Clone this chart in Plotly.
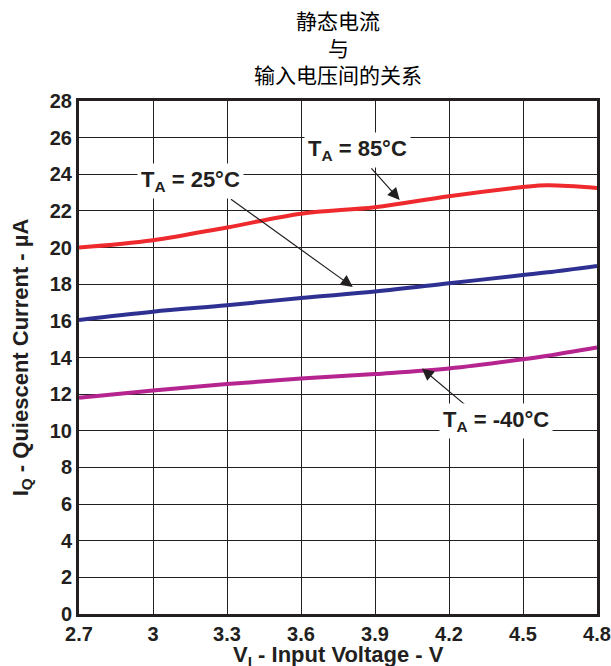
import plotly.graph_objects as go

vin = [2.7, 3.0, 3.3, 3.6, 3.9, 4.2, 4.5, 4.6, 4.8]
iq_85 = [20.0, 20.4, 21.1, 21.85, 22.2, 22.8, 23.3, 23.4, 23.25]
iq_25 = [16.05, 16.5, 16.85, 17.25, 17.6, 18.05, 18.5, 18.65, 19.0]
iq_m40 = [11.8, 12.2, 12.55, 12.85, 13.1, 13.4, 13.9, 14.1, 14.55]
title_lines = ["静态电流", "与", "输入电压间的关系"]

fnt = "Liberation Sans, Arial"
ink = "#231f20"

fig = go.Figure()
fig.add_trace(go.Scatter(x=vin, y=iq_85, mode="lines", line=dict(color="#ee2a2e", width=4, shape="spline")))
fig.add_trace(go.Scatter(x=vin, y=iq_25, mode="lines", line=dict(color="#2e3192", width=4, shape="spline")))
fig.add_trace(go.Scatter(x=vin, y=iq_m40, mode="lines", line=dict(color="#b5248f", width=4, shape="spline")))

lbl_font = dict(family=fnt, size=22, color=ink)

# arrows: (head x, head y, tail x, tail y)
arrows = [(4.0, 22.6, 3.88, 24.4), (3.81, 17.85, 3.31, 22.7), (4.09, 13.4, 4.28, 11.25)]
for hx, hy, tx, ty in arrows:
    fig.add_annotation(x=hx, y=hy, ax=tx, ay=ty, axref="x", ayref="y", xref="x", yref="y",
                       text="", showarrow=True, arrowhead=2, arrowsize=2, arrowwidth=1.2,
                       arrowcolor=ink)

labels = [("<b>T<sub>A</sub> = 85°C</b>", 3.83, 25.35),
          ("<b>T<sub>A</sub> = 25°C</b>", 3.15, 23.65),
          ("<b>T<sub>A</sub> = -40°C</b>", 4.39, 10.55)]
for txt, x, y in labels:
    fig.add_annotation(x=x, y=y, text=txt, showarrow=False, font=lbl_font, bgcolor="white",
                       borderpad=3)

for line, yp in zip(title_lines, [1.158, 1.105, 1.052]):
    fig.add_annotation(x=0.5, y=yp, xref="paper", yref="paper", yanchor="middle", text=line,
                       showarrow=False, font=dict(family="Noto Sans CJK SC", size=21, color="black"))

# x axis title as annotation so it sits where the reference has it
fig.add_annotation(x=0.5, y=-0.082, xref="paper", yref="paper", yanchor="middle",
                   text="<b>V<sub>I</sub> - Input Voltage - V</b>", showarrow=False,
                   font=dict(family=fnt, size=22, color=ink))

fig.update_layout(
    width=611, height=666,
    margin=dict(l=79, r=14, t=101, b=52),
    plot_bgcolor="white", paper_bgcolor="white",
    showlegend=False,
)
fig.update_xaxes(range=[2.7, 4.8], tick0=2.7, dtick=0.3, showgrid=True, gridcolor=ink, gridwidth=1,
                 showline=True, linecolor=ink, linewidth=3, mirror=True, zeroline=False,
                 ticks="", tickfont=dict(family=fnt, size=20, color=ink), automargin=False,
                 tickprefix="<b>", ticksuffix="</b>")
fig.update_yaxes(range=[0, 28], dtick=2, showgrid=True, gridcolor=ink, gridwidth=1,
                 showline=True, linecolor=ink, linewidth=3, mirror=True, zeroline=False,
                 ticks="", tickfont=dict(family=fnt, size=20, color=ink), automargin=False,
                 tickprefix="<b>", ticksuffix="</b>",
                 title=dict(text="<b>I<sub>Q</sub> - Quiescent Current - µA</b>", standoff=16,
                            font=dict(family=fnt, size=22, color=ink)))

# drop the default 8px body margin so the figure fills the window
fig.write_html("out.html", config={"displayModeBar": False},
               post_script="document.body.style.margin='0';document.body.style.overflow='hidden';")
